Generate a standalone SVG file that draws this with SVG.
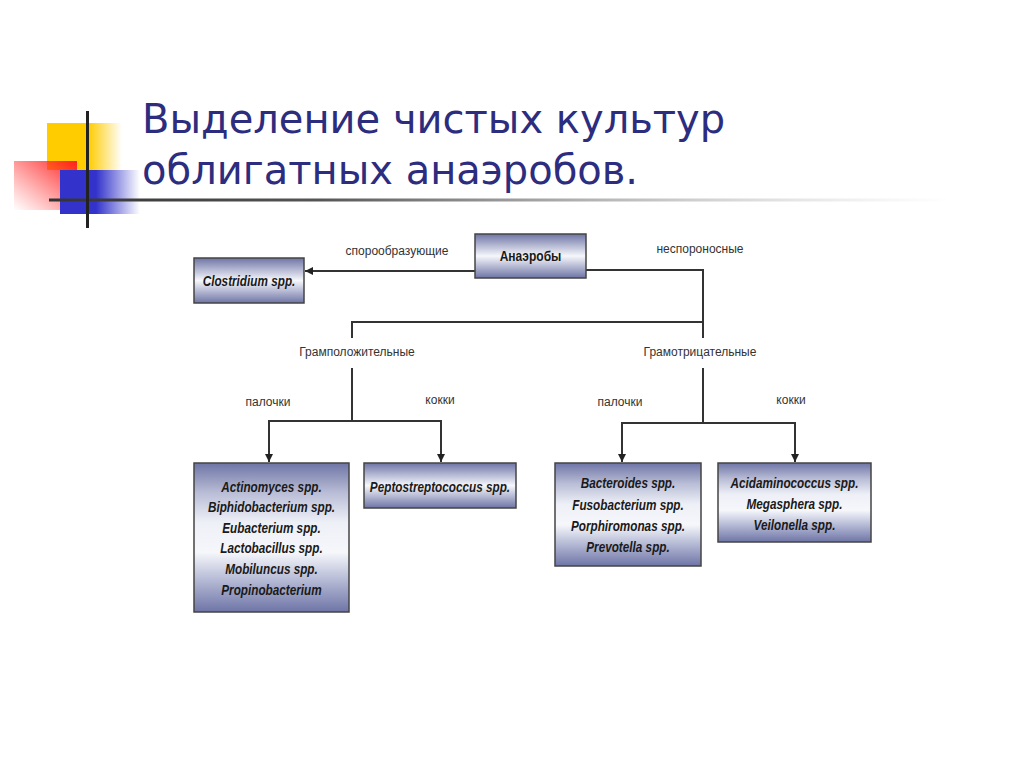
<svg xmlns="http://www.w3.org/2000/svg" width="1024" height="768" viewBox="0 0 1024 768">
<defs>
<linearGradient id="yel" x1="0" y1="0" x2="1" y2="0"><stop offset="0" stop-color="#ffcc00"/><stop offset="0.55" stop-color="#ffcc00"/><stop offset="1" stop-color="#ffcc00" stop-opacity="0"/></linearGradient>
<linearGradient id="red" x1="1" y1="0" x2="0" y2="1"><stop offset="0" stop-color="#ff2020"/><stop offset="1" stop-color="#ff4040" stop-opacity="0"/></linearGradient>
<linearGradient id="blu" x1="0" y1="0" x2="1" y2="0"><stop offset="0" stop-color="#3333cc"/><stop offset="0.45" stop-color="#3333cc"/><stop offset="1" stop-color="#3333cc" stop-opacity="0"/></linearGradient>
<linearGradient id="hl" x1="0" y1="0" x2="1" y2="0"><stop offset="0" stop-color="#333"/><stop offset="0.3" stop-color="#555"/><stop offset="1" stop-color="#aaa" stop-opacity="0"/></linearGradient>
<linearGradient id="box" x1="0" y1="0" x2="0" y2="1"><stop offset="0" stop-color="#6e75a6"/><stop offset="0.5" stop-color="#f6f7fb"/><stop offset="1" stop-color="#6e75a6"/></linearGradient>
<linearGradient id="boxt" x1="0" y1="0" x2="0" y2="1"><stop offset="0" stop-color="#6e75a6"/><stop offset="0.2" stop-color="#b9bdd6"/><stop offset="0.4" stop-color="#eef0f7"/><stop offset="0.6" stop-color="#f6f7fb"/><stop offset="0.8" stop-color="#b0b5d2"/><stop offset="1" stop-color="#6e75a6"/></linearGradient>
<marker id="ah" viewBox="0 0 10 10" refX="10" refY="5" markerWidth="8" markerHeight="8" markerUnits="userSpaceOnUse" orient="auto"><path d="M0,0 L10,5 L0,10 z" fill="#222"/></marker>
</defs>
<style>
.title{font-family:"DejaVu Sans",Verdana,sans-serif;font-size:40px;fill:#2d2d7f}
.bx{stroke:#444;stroke-width:1.5}
.nt{font-family:"Liberation Sans",Arial,sans-serif;font-weight:bold;font-style:italic;font-size:14px;fill:#1a1a1a;text-anchor:middle}
.lb{font-family:"Liberation Sans",Arial,sans-serif;font-size:12px;fill:#333;text-anchor:middle}
.cn{stroke:#333;stroke-width:2;fill:none}
</style>
<rect width="1024" height="768" fill="#fff"/>
<g id="decor">
<rect x="47" y="123" width="75" height="47" fill="url(#yel)"/>
<rect x="14" y="161" width="63" height="49" fill="url(#red)"/>
<rect x="60" y="170" width="80" height="44" fill="url(#blu)"/>
<rect x="49" y="198.5" width="900" height="3" fill="url(#hl)"/>
<rect x="86" y="111" width="3" height="117" fill="#222"/>
</g>
<g id="title">
<text class="title" x="142" y="133">Выделение чистых культур</text>
<text class="title" x="142" y="184">облигатных анаэробов.</text>
</g>
<g id="connectors">
<path class="cn" d="M475,271 L305,271" marker-end="url(#ah)"/>
<path class="cn" d="M586,270 L703,270 L703,322 L352,322 L352,338"/>
<path class="cn" d="M703,322 L703,338"/>
<path class="cn" d="M352,368 L352,421"/>
<path class="cn" d="M269,421 L441,421"/>
<path class="cn" d="M269,420 L269,462" marker-end="url(#ah)"/>
<path class="cn" d="M441,420 L441,462" marker-end="url(#ah)"/>
<path class="cn" d="M703,368 L703,423"/>
<path class="cn" d="M622,423 L795,423"/>
<path class="cn" d="M622,422 L622,462" marker-end="url(#ah)"/>
<path class="cn" d="M795,422 L795,462" marker-end="url(#ah)"/>
<text class="lb" x="397" y="255">спорообразующие</text>
<text class="lb" x="700" y="253">неспороносные</text>
<text class="lb" x="357" y="356">Грамположительные</text>
<text class="lb" x="700" y="356">Грамотрицательные</text>
<text class="lb" x="268" y="406">палочки</text>
<text class="lb" x="440" y="404">кокки</text>
<text class="lb" x="620" y="406">палочки</text>
<text class="lb" x="791" y="404">кокки</text>
</g>
<g id="anaerobes">
<rect class="bx" x="475" y="234" width="111" height="44" fill="url(#box)"/>
<text class="nt" transform="translate(530.5,261) scale(0.86,1)" style="font-style:normal">Анаэробы</text>
</g>
<g id="clostridium">
<rect class="bx" x="194" y="258" width="110" height="45" fill="url(#box)"/>
<text class="nt" transform="translate(249,286) scale(0.84,1)">Clostridium spp.</text>
</g>
<g id="gram-pos-rods">
<rect class="bx" x="194" y="463" width="155" height="149" fill="url(#boxt)"/>
<g transform="translate(271.5,0) scale(0.84,1)">
<text class="nt" x="0" y="492">Actinomyces spp.</text>
<text class="nt" x="0" y="512.5">Biphidobacterium spp.</text>
<text class="nt" x="0" y="533">Eubacterium spp.</text>
<text class="nt" x="0" y="553.5">Lactobacillus spp.</text>
<text class="nt" x="0" y="574">Mobiluncus spp.</text>
<text class="nt" x="0" y="595">Propinobacterium</text>
</g>
</g>
<g id="gram-pos-cocci">
<rect class="bx" x="364" y="463" width="152" height="45" fill="url(#box)"/>
<text class="nt" transform="translate(440,492) scale(0.84,1)">Peptostreptococcus spp.</text>
</g>
<g id="gram-neg-rods">
<rect class="bx" x="555" y="463" width="146" height="103" fill="url(#boxt)"/>
<g transform="translate(628,0) scale(0.84,1)">
<text class="nt" x="0" y="488">Bacteroides spp.</text>
<text class="nt" x="0" y="510">Fusobacterium spp.</text>
<text class="nt" x="0" y="531">Porphiromonas spp.</text>
<text class="nt" x="0" y="552">Prevotella spp.</text>
</g>
</g>
<g id="gram-neg-cocci">
<rect class="bx" x="718" y="463" width="153" height="79" fill="url(#boxt)"/>
<g transform="translate(794.5,0) scale(0.84,1)">
<text class="nt" x="0" y="488">Acidaminococcus spp.</text>
<text class="nt" x="0" y="509">Megasphera spp.</text>
<text class="nt" x="0" y="530">Veilonella spp.</text>
</g>
</g>
</svg>
